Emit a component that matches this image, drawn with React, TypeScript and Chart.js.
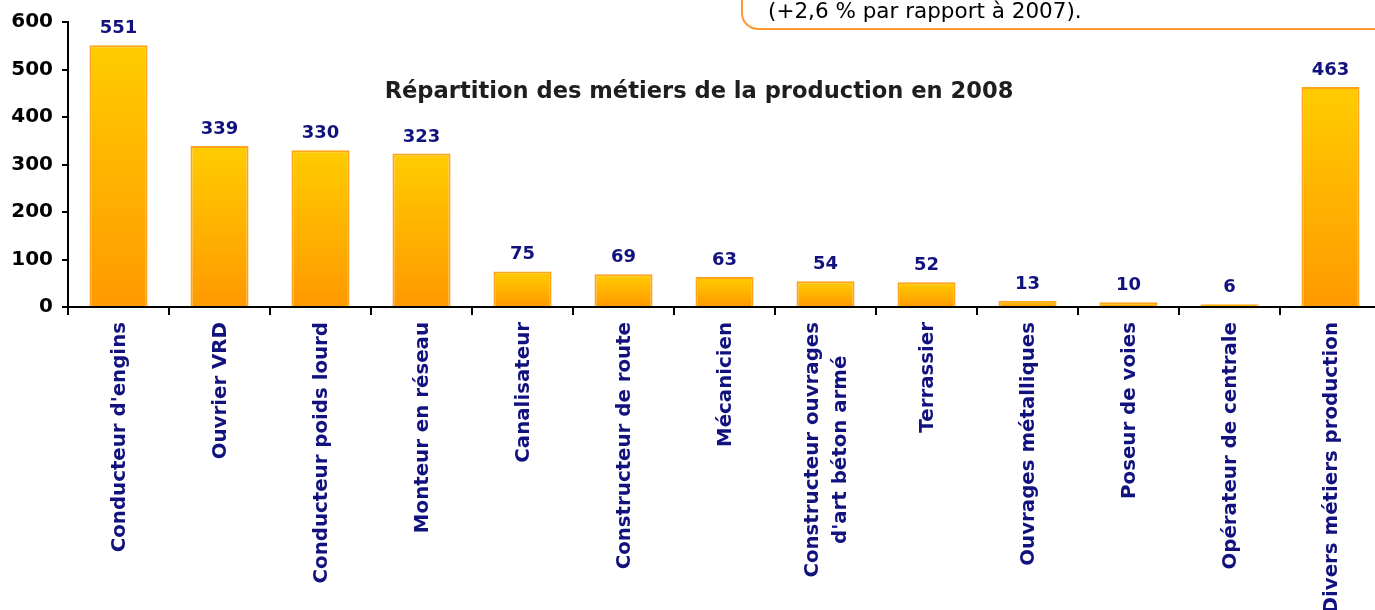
import React, { useEffect, useRef } from "react";
import { Chart, registerables } from "chart.js";

Chart.register(...registerables);

const categories: (string | string[])[] = [
  "Conducteur d'engins",
  "Ouvrier VRD",
  "Conducteur poids lourd",
  "Monteur en réseau",
  "Canalisateur",
  "Constructeur de route",
  "Mécanicien",
  ["Constructeur ouvrages", "d'art béton armé"],
  "Terrassier",
  "Ouvrages métalliques",
  "Poseur de voies",
  "Opérateur de centrale",
  "Divers métiers production",
];

const values = [551, 339, 330, 323, 75, 69, 63, 54, 52, 13, 10, 6, 463];

const yTicks = [0, 100, 200, 300, 400, 500, 600];

const titleText = "Répartition des métiers de la production en 2008";
const noteText = "(+2,6 % par rapport à 2007).";

const NAVY = "#12127e";

const overlayPlugin = {
  id: "overlay",
  afterDatasetsDraw(chart: any) {
    const ctx = chart.ctx;
    const meta = chart.getDatasetMeta(0);
    ctx.save();
    // data labels
    ctx.fillStyle = NAVY;
    ctx.font = "bold 18px 'DejaVu Sans'";
    ctx.textAlign = "center";
    ctx.textBaseline = "alphabetic";
    meta.data.forEach((el: any, i: number) => {
      ctx.fillText(String(values[i]), el.x, el.y - 12);
    });
    // x labels
    const xs = chart.scales.x;
    ctx.font = "bold 19.8px 'DejaVu Sans'";
    ctx.fillStyle = NAVY;
    categories.forEach((lab, i) => {
      const lines = Array.isArray(lab) ? lab : [lab];
      const widths = lines.map((l) => ctx.measureText(l).width);
      const maxW = Math.max(...widths);
      const cx = xs.getPixelForValue(i) + 1;
      const lh = 28;
      ctx.save();
      ctx.translate(cx, xs.top + 15);
      ctx.rotate(-Math.PI / 2);
      ctx.textAlign = "center";
      ctx.textBaseline = "middle";
      lines.forEach((l, j) => {
        const off = (j - (lines.length - 1) / 2) * lh;
        ctx.fillText(l, -maxW / 2, off);
      });
      ctx.restore();
    });
    // title
    ctx.font = "bold 22.6px 'DejaVu Sans'";
    ctx.fillStyle = "#1e1e1e";
    ctx.textAlign = "center";
    ctx.textBaseline = "middle";
    ctx.fillText(titleText, 699, 92);
    // note box
    const bx = 742;
    const by = 29;
    const r = 16;
    ctx.strokeStyle = "#ff9933";
    ctx.lineWidth = 2;
    ctx.beginPath();
    ctx.moveTo(bx, -10);
    ctx.lineTo(bx, by - r);
    ctx.arcTo(bx, by, bx + r, by, r);
    ctx.lineTo(chart.width + 10, by);
    ctx.stroke();
    ctx.font = "21.5px 'DejaVu Sans'";
    ctx.fillStyle = "#000000";
    ctx.textAlign = "left";
    ctx.textBaseline = "alphabetic";
    ctx.fillText(noteText, 768, 18);
    ctx.restore();
  },
};

export default function App() {
  const ref = useRef<HTMLCanvasElement | null>(null);
  useEffect(() => {
    if (!ref.current) return;
    const chart = new Chart(ref.current, {
      type: "bar",
      data: {
        labels: categories.map((c) => (Array.isArray(c) ? c.join(" ") : c)),
        datasets: [
          {
            data: values,
            backgroundColor: (c: any) => {
              const ch = c.chart;
              if (!ch.chartArea || c.parsed == null) return "#ffb300";
              const ys = ch.scales.y;
              const top = ys.getPixelForValue(c.parsed.y);
              const bot = ys.getPixelForValue(0);
              if (!isFinite(top) || !isFinite(bot) || bot - top < 1) return "#ffb300";
              const g = ch.ctx.createLinearGradient(0, top, 0, bot);
              g.addColorStop(0, "#ffcc00");
              g.addColorStop(1, "#ff9900");
              return g;
            },
            borderColor: "#ffa31a",
            borderWidth: 2,
            barPercentage: 0.575,
            categoryPercentage: 1,
          },
        ],
      },
      options: {
        responsive: true,
        maintainAspectRatio: false,
        animation: false,
        layout: { padding: { top: 22, right: 1, left: 0, bottom: 0 } },
        plugins: {
          legend: { display: false },
          tooltip: { enabled: false },
          title: { display: false },
        },
        scales: {
          x: {
            ticks: { display: false },
            grid: {
              display: true,
              offset: true,
              drawOnChartArea: false,
              drawTicks: true,
              tickLength: 8,
              color: "#000",
              lineWidth: 2,
            },
            border: { display: true, color: "#000", width: 2 },
            afterFit: (s: any) => {
              s.height = 303;
            },
          },
          y: {
            min: 0,
            max: 600,
            afterBuildTicks: (s: any) => {
              s.ticks = yTicks.map((v) => ({ value: v }));
            },
            ticks: {
              color: "#000",
              font: { family: "'DejaVu Sans'", size: 20, weight: "bold" },
              padding: 9,
            },
            grid: {
              display: true,
              drawOnChartArea: false,
              drawTicks: true,
              tickLength: 6,
              color: "#000",
              lineWidth: 2,
            },
            border: { display: true, color: "#000", width: 2 },
            afterFit: (s: any) => {
              s.width = 68;
            },
          },
        },
      },
      plugins: [overlayPlugin],
    });
    return () => chart.destroy();
  }, []);
  return (
    <div
      style={{
        position: "fixed",
        left: 0,
        top: 0,
        width: 1375,
        height: 610,
        overflow: "hidden",
        background: "#fff",
      }}
    >
      <div style={{ position: "relative", width: 1382, height: 610 }}>
        <canvas ref={ref} />
      </div>
    </div>
  );
}
